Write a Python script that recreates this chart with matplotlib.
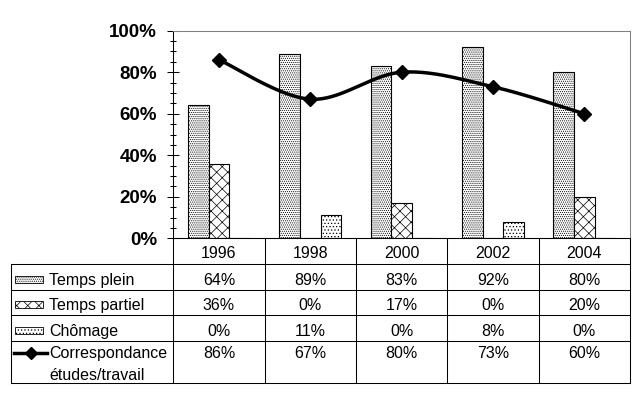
import numpy as np
import matplotlib
matplotlib.use('Agg')
import matplotlib.pyplot as plt
from matplotlib.patches import Rectangle
from matplotlib.ticker import MultipleLocator

years = ['1996', '1998', '2000', '2002', '2004']
temps_plein = [64, 89, 83, 92, 80]
temps_partiel = [36, 0, 17, 0, 20]
chomage = [0, 11, 0, 8, 0]
correspondance = [86, 67, 80, 73, 60]
series_labels = ['Temps plein', 'Temps partiel', 'Chômage', 'Correspondance', 'études/travail']
y_ticks = [0, 20, 40, 60, 80, 100]

plt.rcParams['font.family'] = ['Liberation Sans', 'DejaVu Sans']
plt.rcParams['hatch.linewidth'] = 0.5

W, H = 640, 400
fig = plt.figure(figsize=(6.4, 4), dpi=100)
fig.patch.set_facecolor('white')

L, R, T, B = 173.3, 630.0, 30.7, 238.3
ax = fig.add_axes([L / W, 1 - B / H, (R - L) / W, (B - T) / H])
n = len(years)
x = np.arange(n)
bw = 0.227
hatches = ['........', 'xxx', '.....']
bar_series = [temps_plein, temps_partiel, chomage]
for k, (vals, h) in enumerate(zip(bar_series, hatches)):
    ax.bar(x + (k - 1) * bw, vals, width=bw, facecolor='white', edgecolor='black',
           linewidth=0.8, hatch=h, zorder=2)


def smooth(xs, ys, m=40):
    P = np.column_stack([xs, ys]).astype(float)
    P = np.vstack([P[0], P, P[-1]])
    out = []
    t = np.linspace(0, 1, m)[:, None]
    for i in range(1, len(P) - 2):
        p0, p1, p2, p3 = P[i - 1], P[i], P[i + 1], P[i + 2]
        c1 = p1 + (p2 - p0) / 6
        c2 = p2 - (p3 - p1) / 6
        seg = (1 - t) ** 3 * p1 + 3 * (1 - t) ** 2 * t * c1 + 3 * (1 - t) * t ** 2 * c2 + t ** 3 * p2
        out.append(seg)
    return np.vstack(out)


curve = smooth(x, correspondance)
ax.plot(curve[:, 0], curve[:, 1], color='black', lw=2.5, zorder=3, solid_capstyle='butt')
ax.plot(x, correspondance, linestyle='none', marker='D', ms=6.8, color='black', zorder=4)

ax.set_xlim(-0.5, n - 0.5)
ax.set_ylim(0, 100)
ax.set_xticks([])
ax.set_yticks(y_ticks)
ax.set_yticklabels([f'{v}%' for v in y_ticks], fontsize=13.5, fontweight='bold')
ax.yaxis.set_minor_locator(MultipleLocator(5))
ax.tick_params(axis='y', which='major', direction='inout', length=8.6, width=0.75, pad=7.4)
ax.tick_params(axis='y', which='minor', direction='inout', length=4.8, width=0.75)
for s in ['top', 'right']:
    ax.spines[s].set_color('#808080')
    ax.spines[s].set_linewidth(0.75)
for s in ['left', 'bottom']:
    ax.spines[s].set_color('black')
    ax.spines[s].set_linewidth(0.75)

# data table
tax = fig.add_axes([0, 0, 1, 1], zorder=5)
tax.set_xlim(0, W)
tax.set_ylim(H, 0)
tax.axis('off')
tax.patch.set_alpha(0)

lw = 0.75
left_edge = 10.7
rows = [238.3, 264.3, 290.0, 315.0, 340.7, 383.3]
colw = (R - L) / n
cols = [L + colw * k for k in range(n + 1)]
for yv in rows[1:]:
    tax.plot([left_edge, R], [yv, yv], color='black', lw=lw)
tax.plot([L, R], [rows[0], rows[0]], color='black', lw=lw)
tax.plot([left_edge, left_edge], [rows[1], rows[-1]], color='black', lw=lw)
for cx in cols:
    tax.plot([cx, cx], [rows[0], rows[-1]], color='black', lw=lw)

fs = 11.5
for j, yr in enumerate(years):
    cx = (cols[j] + cols[j + 1]) / 2
    tax.text(cx, rows[0] + 20.2, yr, ha='center', va='baseline', fontsize=fs)

all_vals = [temps_plein, temps_partiel, chomage, correspondance]
for i, vals in enumerate(all_vals):
    if i < 3:
        base = (rows[i + 1] + rows[i + 2]) / 2 + 7.8
    else:
        base = rows[i + 1] + 17.5
    for j, v in enumerate(vals):
        cx = (cols[j] + cols[j + 1]) / 2
        tax.text(cx, base, f'{v}%', ha='center', va='baseline', fontsize=fs)
    if i < 3:
        tax.text(49.3, base, series_labels[i], ha='left', va='baseline', fontsize=fs)
        kc = base - 5.5
        tax.add_patch(Rectangle((15, kc - 3.5), 28, 7, facecolor='white', edgecolor='black',
                                lw=0.6, hatch=hatches[i]))
    else:
        tax.text(49.3, base, series_labels[3], ha='left', va='baseline', fontsize=fs)
        tax.text(49.3, base + 22, series_labels[4], ha='left', va='baseline', fontsize=fs)
        ky = base - 5.5
        tax.plot([14, 47], [ky, ky], color='black', lw=2.5)
        tax.plot([30.5], [ky], marker='D', ms=6.3, color='black')

fig.savefig('out.png', dpi=100)
